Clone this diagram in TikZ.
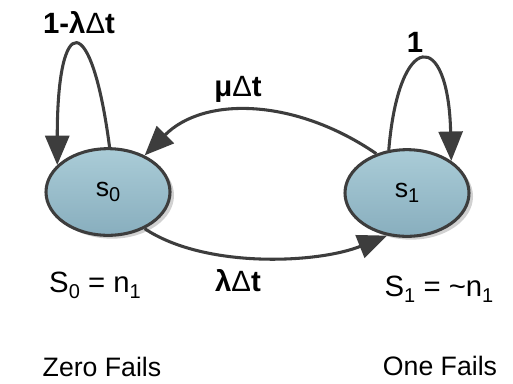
\documentclass[tikz,border=0pt]{standalone}
\usepackage{fontspec}
\setmainfont{Liberation Sans}
\usetikzlibrary{arrows.meta,shadows,shapes.geometric}

\definecolor{stateTop}{HTML}{AACCD7}
\definecolor{stateBot}{HTML}{88AEBE}
\definecolor{edgeGrey}{HTML}{3D3D3D}

\newcommand{\lowsub}[1]{\raisebox{-0.4ex}{\fontsize{15}{18}\selectfont #1}}
\newcommand{\thinDelta}{{\mdseries\symbol{"0394}}}

\begin{document}
\begin{tikzpicture}[x=0.75pt, y=-0.75pt, >={Triangle[length=22pt,width=18pt]},
  state/.style={ellipse, draw=edgeGrey, line width=2.3pt, top color=stateTop,
    bottom color=stateBot, minimum width=93pt, minimum height=65pt, inner sep=0pt,
    font=\fontsize{20}{24}\selectfont,
    drop shadow={shadow xshift=3pt, shadow yshift=-2.5pt, fill=black!18, opacity=1}},
  trans/.style={->, draw=edgeGrey, line width=2.3pt},
  prob/.style={font=\fontsize{22}{26}\selectfont\bfseries},
  note/.style={font=\fontsize{20}{24}\selectfont},
  meaning/.style={font=\fontsize{22}{26}\selectfont}]
  \useasboundingbox (0,0) rectangle (513,383);

  % States
  \node[state] (s0) at (108,192) {s\lowsub{0}};
  \node[state] (s1) at (407,193) {s\lowsub{1}};

  % Transitions
  \draw[trans] (s0.88) .. controls +(-18,-138) and +(0,-155) .. (s0.152);
  \draw[trans] (s1.113) .. controls +(10,-120) and +(-3,-133) .. (s1.36);
  \draw[trans] (s1.128) .. controls +(-80,-55) and +(60,-60) .. (s0.45);
  \draw[trans] (s0.-45) .. controls +(60,40) and +(-70,28) .. (s1.245);

  % Probabilities
  \node[prob] (p00) at (79,23) {1-λ\thinDelta t};
  \node[prob] (p11) at (415,42) {1};
  \node[prob] (p10) at (238,89) {μ\thinDelta t};
  \node[prob] (p01) at (238,281) {λ\thinDelta t};

  % State meaning
  \node[meaning] (m0) at (95,285) {S\lowsub{0} = n\lowsub{1}};
  \node[meaning] (m1) at (439,289) {S\lowsub{1} = \textasciitilde n\lowsub{1}};
  \node[note] (f0) at (102,367) {Zero Fails};
  \node[note] (f1) at (440,366) {One Fails};
\end{tikzpicture}
\end{document}
